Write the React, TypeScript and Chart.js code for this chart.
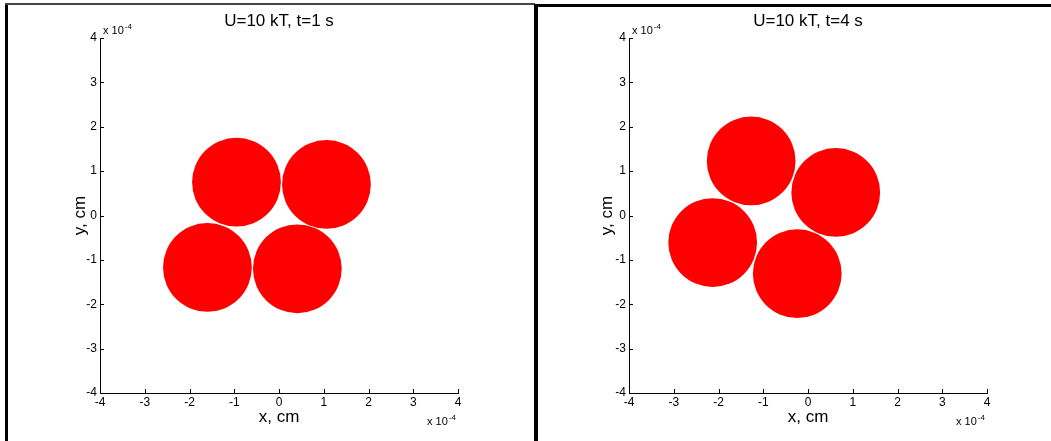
import { useEffect, useRef } from "react";
import { Chart, registerables } from "chart.js";

Chart.register(...registerables);

// Particle centres, in units of 1e-4 cm
const particleRadius = 1.0;
const earlyX = [-0.95, 1.06, -1.6, 0.41];
const earlyY = [0.75, 0.7, -1.17, -1.2];
const lateX = [-1.27, 0.62, -2.13, -0.24];
const lateY = [1.23, 0.52, -0.61, -1.31];

const tickValues = [-4, -3, -2, -1, 0, 1, 2, 3, 4];
const axisMin = -4;
const axisMax = 4;
const exponentBase = "x 10";
const exponentPower = "-4";
const earlyTitle = "U=10 kT, t=1 s";
const lateTitle = "U=10 kT, t=4 s";
const xTitle = "x, cm";
const yTitle = "y, cm";

const FONT = "'Liberation Sans', Arial, Helvetica, sans-serif";
const CANVAS_H = 441;
const TITLE_SIZE = 17;

// MATLAB-like inward ticks plus the "x 10^-4" multipliers
const matlabAxes = {
  id: "matlabAxes",
  afterDraw(chart: any) {
    const { ctx, chartArea: a, scales } = chart;
    ctx.save();
    ctx.strokeStyle = "#000";
    ctx.lineWidth = 1;
    ctx.beginPath();
    for (const v of tickValues) {
      const px = Math.round(scales.x.getPixelForValue(v)) + 0.5;
      ctx.moveTo(px, a.bottom);
      ctx.lineTo(px, a.bottom - 4);
      const py = Math.round(scales.y.getPixelForValue(v)) + 0.5;
      ctx.moveTo(a.left, py);
      ctx.lineTo(a.left + 4, py);
    }
    ctx.stroke();

    ctx.fillStyle = "#000";
    ctx.textBaseline = "alphabetic";
    ctx.textAlign = "left";
    const drawExp = (x: number, y: number) => {
      ctx.font = `11px ${FONT}`;
      ctx.fillText(exponentBase, x, y);
      const w = ctx.measureText(exponentBase).width;
      ctx.font = `8px ${FONT}`;
      ctx.fillText(exponentPower, x + w + 1, y - 5);
    };
    drawExp(a.left + 3, a.top - 4);
    drawExp(a.right - 31, a.bottom + 32);
    ctx.restore();
  },
};

type PanelProps = {
  title: string;
  xs: number[];
  ys: number[];
  left: number;
  width: number;
  areaLeft: number;
  areaRight: number;
  yTitleX: number;
};

function Panel({ title, xs, ys, left, width, areaLeft, areaRight, yTitleX }: PanelProps) {
  const ref = useRef<HTMLCanvasElement>(null);

  useEffect(() => {
    const radiusPx = (c: any) => {
      const s = c.chart.scales.y;
      return Math.abs(s.getPixelForValue(particleRadius) - s.getPixelForValue(0));
    };
    const chart = new Chart(ref.current as HTMLCanvasElement, {
      type: "scatter",
      data: {
        datasets: [
          {
            data: xs.map((x, i) => ({ x, y: ys[i] })),
            backgroundColor: "#ff0000",
            borderWidth: 0,
            pointRadius: radiusPx,
            pointHoverRadius: radiusPx,
          },
        ],
      },
      options: {
        responsive: false,
        animation: false,
        events: [],
        layout: { padding: { left: 0, right: width - areaRight, top: 0, bottom: 0 } },
        plugins: {
          legend: { display: false },
          tooltip: { enabled: false },
          title: {
            display: true,
            text: title,
            fullSize: false,
            color: "#000",
            font: { family: FONT, size: TITLE_SIZE, weight: "normal" },
            padding: { top: 11, bottom: 6.6 },
          },
        },
        scales: {
          x: {
            type: "linear",
            min: axisMin,
            max: axisMax,
            afterFit: (s: any) => {
              s.height = CANVAS_H - 393;
            },
            afterBuildTicks: (s: any) => {
              s.ticks = tickValues.map((value) => ({ value }));
            },
            grid: { display: false, drawTicks: false },
            border: { display: true, color: "#000", width: 1 },
            ticks: {
              color: "#000",
              padding: 2,
              maxRotation: 0,
              autoSkip: false,
              font: { family: FONT, size: 12 },
            },
            title: {
              display: true,
              text: xTitle,
              color: "#000",
              font: { family: FONT, size: TITLE_SIZE },
              padding: { top: 2, bottom: 13 },
            },
          },
          y: {
            type: "linear",
            min: axisMin,
            max: axisMax,
            afterFit: (s: any) => {
              s.width = areaLeft;
            },
            afterBuildTicks: (s: any) => {
              s.ticks = tickValues.map((value) => ({ value }));
            },
            grid: { display: false, drawTicks: false },
            border: { display: true, color: "#000", width: 1 },
            ticks: {
              color: "#000",
              padding: 3,
              autoSkip: false,
              font: { family: FONT, size: 12 },
            },
            title: {
              display: true,
              text: yTitle,
              color: "#000",
              font: { family: FONT, size: TITLE_SIZE },
              padding: { top: yTitleX - TITLE_SIZE * 0.6, bottom: 2 },
            },
          },
        },
      },
      plugins: [matlabAxes],
    });
    return () => chart.destroy();
  }, []);

  return (
    <canvas
      ref={ref}
      width={width}
      height={CANVAS_H}
      style={{ position: "absolute", left, top: 0, display: "block" }}
    />
  );
}

export default function App() {
  return (
    <div
      style={{
        position: "fixed",
        left: 0,
        top: 0,
        width: 1051,
        height: CANVAS_H,
        background: "#fff",
        overflow: "hidden",
      }}
    >
      <Panel
        title={earlyTitle}
        xs={earlyX}
        ys={earlyY}
        left={0}
        width={535}
        areaLeft={100}
        areaRight={458}
        yTitleX={80}
      />
      <Panel
        title={lateTitle}
        xs={lateX}
        ys={lateY}
        left={536}
        width={515}
        areaLeft={93}
        areaRight={451}
        yTitleX={71}
      />
      {/* figure frames */}
      <div style={{ position: "absolute", left: 5, top: 3, width: 3, height: 438, background: "#000" }} />
      <div style={{ position: "absolute", left: 5, top: 3, width: 530, height: 2, background: "#444" }} />
      <div style={{ position: "absolute", left: 534, top: 4, width: 4, height: 437, background: "#000" }} />
      <div style={{ position: "absolute", left: 536, top: 4, width: 515, height: 3, background: "#000" }} />
    </div>
  );
}
